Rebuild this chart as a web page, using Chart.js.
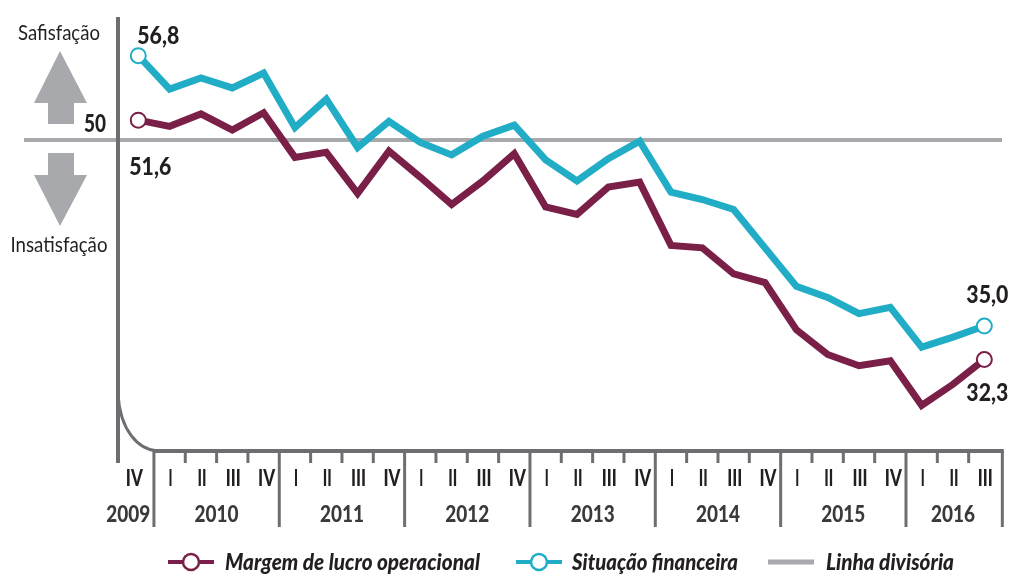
<!DOCTYPE html>
<html><head><meta charset="utf-8">
<style>html,body{margin:0;padding:0;background:#fff}canvas{display:block}</style>
<script src="https://cdn.jsdelivr.net/npm/chart.js@4"></script>
</head><body><canvas id="c" width="1010" height="574"></canvas>
<script>
const quarters=['IV','I','II','III','IV','I','II','III','IV','I','II','III','IV','I','II','III','IV','I','II','III','IV','I','II','III','IV','I','II','III'];
const years=['2009','2010','2011','2012','2013','2014','2015','2016'];
const yearStart=[0,1,5,9,13,17,21,25];
const margem=[51.6,51.1,52.1,50.8,52.2,48.6,49.0,45.7,49.1,47.0,44.8,46.7,48.9,44.6,44.0,46.2,46.6,41.5,41.3,39.2,38.5,34.7,32.7,31.8,32.2,28.6,30.3,32.3];
const situacao=[56.8,54.1,55.0,54.2,55.4,51.0,53.3,49.4,51.5,49.8,48.8,50.3,51.2,48.4,46.7,48.5,49.9,45.8,45.2,44.4,41.3,38.2,37.3,36.0,36.5,33.3,34.1,35.0];
const divisoria=quarters.map(()=>50);
const seriesNames=['Margem de lucro operacional','Situação financeira','Linha divisória'];
const MAROON='#7a1f47',TEAL='#22adc7',GREY='#a7a9ac',AXIS='#6d6e72',INK='#231f20',YEARINK='#3a3a3c';
const FONT='Lato,"Liberation Sans",sans-serif';
const endsOnly=(n,r)=>ctx=>(ctx.dataIndex===0||ctx.dataIndex===n-1)?r:0;
const quarterWidth={I:4,II:9,III:15,IV:17};
const quarterShift={I:1,II:1,III:1,IV:3};

function line(c,x1,y1,x2,y2,col,w){c.strokeStyle=col;c.lineWidth=w;c.beginPath();c.moveTo(x1,y1);c.lineTo(x2,y2);c.stroke();}
function text(c,s,x,y,font,col,al,mw){c.font=font;c.fillStyle=col;c.textAlign=al||'center';c.textBaseline='middle';c.fillText(s,x,y,mw);}
function poly(c,pts,col){c.fillStyle=col;c.beginPath();pts.forEach((p,i)=>i?c.lineTo(p[0],p[1]):c.moveTo(p[0],p[1]));c.closePath();c.fill();}

const furniture={id:'furniture',
 beforeDatasetsDraw(ch){
  const c=ch.ctx,ys=ch.scales.y;c.save();
  line(c,24,ys.getPixelForValue(50),1002,ys.getPixelForValue(50),GREY,4);
  c.restore();
 },
 afterDatasetsDraw(ch){
  const c=ch.ctx,xs=ch.scales.x,ys=ch.scales.y;c.save();
  const base=ys.getPixelForValue(25)+1;
  const edge=i=>(xs.getPixelForValue(i)+xs.getPixelForValue(i+1))/2;
  line(c,118,17,118,463,AXIS,4);
  c.strokeStyle=AXIS;c.lineWidth=3;c.beginPath();c.moveTo(118,394);c.bezierCurveTo(120,430,138,450,158,451);c.stroke();
  const xEnd=xs.getPixelForValue(quarters.length-1)+18;
  line(c,155,base,xEnd+1.5,base,AXIS,4);
  quarters.forEach((q,i)=>{
    if(i<quarters.length-1){
      const isYear=yearStart.includes(i+1);
      line(c,edge(i),base,edge(i),isYear?527:463,AXIS,3);
    }
    const dx=i===0?-4:quarterShift[q];
    text(c,q,xs.getPixelForValue(i)+dx,479,'900 23px '+FONT,INK,'center',quarterWidth[q]);
  });
  line(c,xEnd,base,xEnd,527,AXIS,3);
  years.forEach((y,i)=>{
    const s=yearStart[i],e=(i+1<years.length?yearStart[i+1]:quarters.length)-1;
    const mid=(xs.getPixelForValue(s)+xs.getPixelForValue(e))/2;
    text(c,y,i===0?mid-10:mid,515,'900 23px '+FONT,YEARINK,'center',44);
  });
  text(c,'Safisfação',59,33,'22px '+FONT,INK,'center',82);
  text(c,'Insatisfação',59,245,'22px '+FONT,INK,'center',97);
  text(c,'50',95,124,'900 24px '+FONT,INK,'center',22);
  poly(c,[[60,51],[87,103],[74,103],[74,124],[48,124],[48,103],[34,103]],GREY);
  poly(c,[[48,153],[74,153],[74,175],[87,175],[60,226],[34,175],[48,175]],GREY);
  const vf='900 25px '+FONT,fmt=v=>v.toFixed(1).replace('.',',');
  const n=quarters.length-1;
  text(c,fmt(situacao[0]),xs.getPixelForValue(0)+20,ys.getPixelForValue(situacao[0])-20,vf,INK,'center',42);
  text(c,fmt(margem[0]),xs.getPixelForValue(0)+12,ys.getPixelForValue(margem[0])+47,vf,INK,'center',42);
  text(c,fmt(situacao[n]),xs.getPixelForValue(n)+3,ys.getPixelForValue(situacao[n])-31,vf,INK,'center',42);
  text(c,fmt(margem[n]),xs.getPixelForValue(n)+3,ys.getPixelForValue(margem[n])+33,vf,INK,'center',42);
  const lf='italic 900 23px '+FONT;
  const item=(x,tx,col,label,marker,mw)=>{
    line(c,x,562,x+46,562,col,marker?4:5);
    if(marker){c.fillStyle='#fff';c.strokeStyle=col;c.lineWidth=2.5;c.beginPath();c.arc(x+23,562,8,0,Math.PI*2);c.fill();c.stroke();}
    text(c,label,tx,563,lf,INK,'left',mw);
  };
  item(168,225,MAROON,seriesNames[0],true,255);
  item(516,572,TEAL,seriesNames[1],true,166);
  item(768,826,GREY,seriesNames[2],false,128);
  c.restore();
 }};

new Chart(document.getElementById('c'),{
 type:'line',
 data:{labels:quarters,datasets:[
  {label:seriesNames[0],data:margem,borderColor:MAROON,backgroundColor:'#fff',borderWidth:7,tension:0,borderJoinStyle:'miter',
   pointBackgroundColor:'#fff',pointBorderColor:MAROON,pointBorderWidth:2,pointRadius:endsOnly(quarters.length,7.5),pointHoverRadius:0},
  {label:seriesNames[1],data:situacao,borderColor:TEAL,backgroundColor:'#fff',borderWidth:7,tension:0,borderJoinStyle:'miter',
   pointBackgroundColor:'#fff',pointBorderColor:TEAL,pointBorderWidth:2,pointRadius:endsOnly(quarters.length,7.5),pointHoverRadius:0},
  {label:seriesNames[2],data:divisoria,borderColor:GREY,borderWidth:4,pointRadius:0,order:5}
 ]},
 options:{responsive:false,animation:false,
  layout:{padding:{left:122.6,right:10,top:16,bottom:74}},
  plugins:{legend:{display:false},tooltip:{enabled:false}},
  events:[],
  scales:{
   x:{type:'category',offset:true,grid:{display:false},border:{display:false},
      ticks:{display:false},afterFit(s){s.height=50;}},
   y:{display:false,min:25,max:60}
  }},
 plugins:[furniture]
});
</script></body></html>
